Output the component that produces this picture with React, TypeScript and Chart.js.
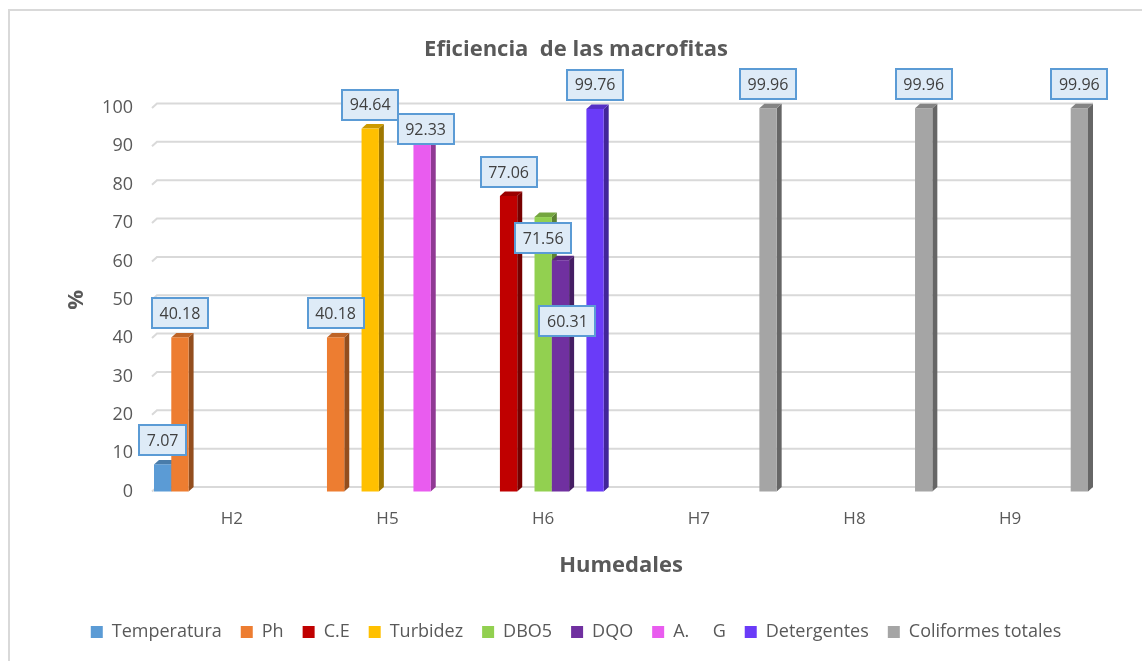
import React, { useEffect, useRef } from 'react';
import { Chart, registerables } from 'chart.js';

Chart.register(...registerables);

// ---- Data ----
const categories: string[] = ['H2', 'H5', 'H6', 'H7', 'H8', 'H9'];
const seriesNames: string[] = [
  'Temperatura', 'Ph', 'C.E', 'Turbidez', 'DBO5', 'DQO', 'A.     G', 'Detergentes', 'Coliformes totales',
];
const temperatura = [7.07, null, null, null, null, null];
const ph = [40.18, 40.18, null, null, null, null];
const ce = [null, null, 77.06, null, null, null];
const turbidez = [null, 94.64, null, null, null, null];
const dbo5 = [null, null, 71.56, null, null, null];
const dqo = [null, null, 60.31, null, null, null];
const aG = [null, 92.33, null, null, null, null];
const detergentes = [null, null, 99.76, null, null, null];
const coliformes = [null, null, null, 99.96, 99.96, 99.96];
const seriesValues = [temperatura, ph, ce, turbidez, dbo5, dqo, aG, detergentes, coliformes];
const yTicks: number[] = [0, 10, 20, 30, 40, 50, 60, 70, 80, 90, 100];

// ---- Styles ----
const seriesColors = ['#5B9BD5', '#ED7D31', '#C00000', '#FFC000', '#92D050', '#7030A0', '#E95CEF', '#6A3BF8', '#A5A5A5'];
const FONT = '"Open Sans"';
const TEXT = '#595959';
const DEPTH_X = 5;
const DEPTH_Y = -4.5;

function shade(hex: string, f: number): string {
  const n = parseInt(hex.slice(1), 16);
  const r = Math.round(((n >> 16) & 255) * f);
  const g = Math.round(((n >> 8) & 255) * f);
  const b = Math.round((n & 255) * f);
  return `rgb(${r},${g},${b})`;
}

const bars3d = {
  id: 'bars3d',
  beforeDatasetsDraw(chart: any) {
    const ctx = chart.ctx;
    const { left, right } = chart.chartArea;
    const ys = chart.scales.y;
    ctx.save();
    // back-wall gridlines
    ctx.strokeStyle = '#D9D9D9';
    ctx.lineWidth = 2;
    for (const v of yTicks) {
      const py = ys.getPixelForValue(v);
      ctx.beginPath();
      ctx.moveTo(left - 2, py);
      ctx.lineTo(left + 3, py + DEPTH_Y);
      ctx.lineTo(right + DEPTH_X, py + DEPTH_Y);
      ctx.stroke();
    }
    // bars
    const items: any[] = [];
    chart.data.datasets.forEach((ds: any, di: number) => {
      const meta = chart.getDatasetMeta(di);
      meta.data.forEach((el: any, i: number) => {
        const v = ds.data[i];
        if (v === null || v === undefined) return;
        items.push({ x: el.x, y: el.y, base: el.base, w: el.width, color: ds.backgroundColor });
      });
    });
    items.sort((a, b) => a.x - b.x);
    for (const it of items) {
      const l = it.x - it.w / 2;
      const r = it.x + it.w / 2;
      // side face
      ctx.fillStyle = shade(it.color, 0.62);
      ctx.beginPath();
      ctx.moveTo(r, it.y);
      ctx.lineTo(r + DEPTH_X, it.y + DEPTH_Y);
      ctx.lineTo(r + DEPTH_X, it.base + DEPTH_Y);
      ctx.lineTo(r, it.base);
      ctx.closePath();
      ctx.fill();
      // top face
      ctx.fillStyle = shade(it.color, 0.8);
      ctx.beginPath();
      ctx.moveTo(l, it.y);
      ctx.lineTo(l + DEPTH_X, it.y + DEPTH_Y);
      ctx.lineTo(r + DEPTH_X, it.y + DEPTH_Y);
      ctx.lineTo(r, it.y);
      ctx.closePath();
      ctx.fill();
      // front face
      ctx.fillStyle = it.color;
      ctx.fillRect(l, it.y, it.w, it.base - it.y);
    }
    ctx.restore();
    return false;
  },
};

const barLabels = {
  id: 'barLabels',
  afterDraw(chart: any, _args: any, opts: any) {
    const ctx = chart.ctx;
    const offsets = (opts && opts.offsets) || {};
    ctx.save();
    ctx.font = `16px ${FONT}`;
    ctx.textAlign = 'center';
    ctx.textBaseline = 'middle';
    chart.data.datasets.forEach((ds: any, di: number) => {
      const meta = chart.getDatasetMeta(di);
      meta.data.forEach((el: any, i: number) => {
        const v = ds.data[i];
        if (v === null || v === undefined) return;
        const txt = v.toFixed(2);
        const off = offsets[`${di}:${i}`] || [0, 0];
        const cx = el.x + off[0];
        const cy = el.y - 24 + off[1];
        const tw = ctx.measureText(txt).width;
        const w = Math.round(tw + 15);
        const h = 30;
        const bx = Math.round(cx - w / 2);
        const by = Math.round(cy - h / 2);
        ctx.fillStyle = '#DEEBF7';
        ctx.fillRect(bx, by, w, h);
        ctx.strokeStyle = '#5B9BD5';
        ctx.lineWidth = 2;
        ctx.strokeRect(bx, by, w, h);
        ctx.fillStyle = '#404040';
        ctx.fillText(txt, cx, cy + 1);
      });
    });
    ctx.restore();
  },
};

export default function App() {
  const ref = useRef<HTMLCanvasElement | null>(null);

  useEffect(() => {
    if (!ref.current) return;
    const chart = new Chart(ref.current, {
      type: 'bar',
      data: {
        labels: categories,
        datasets: seriesNames.map((name, i) => ({
          label: name,
          data: seriesValues[i],
          backgroundColor: seriesColors[i],
          borderWidth: 0,
          categoryPercentage: 1,
          barPercentage: 1,
        })),
      },
      options: {
        responsive: false,
        animation: false,
        events: [],
        layout: { padding: { left: 64, right: 54, top: 0, bottom: 10 } },
        scales: {
          x: {
            grid: { display: false, drawTicks: false },
            border: { display: false },
            ticks: { font: { family: FONT, size: 17 }, color: TEXT, padding: 17 },
            title: {
              display: true,
              text: 'Humedales',
              font: { family: FONT, size: 22, weight: 'bold' },
              color: TEXT,
              padding: { top: 0, bottom: 25 },
            },
            afterFit: (s: any) => { s.height = 112.5; },
          },
          y: {
            min: 0,
            max: 100,
            grid: { display: false, drawTicks: false },
            border: { display: false },
            ticks: { stepSize: 10, font: { family: FONT, size: 18 }, color: TEXT, padding: 21 },
            title: {
              display: true,
              text: '%',
              font: { family: FONT, size: 22, weight: 'bold' },
              color: TEXT,
              padding: { top: 0, bottom: 0 },
            },
            afterFit: (s: any) => { s.width = 90; },
          },
        },
        plugins: {
          title: {
            display: true,
            text: 'Eficiencia  de las macrofitas',
            font: { family: FONT, size: 22, weight: 'bold' },
            color: TEXT,
            padding: { top: 36.3, bottom: 45.3 },
          },
          legend: {
            position: 'bottom',
            labels: {
              font: { family: FONT, size: 18 },
              color: TEXT,
              boxWidth: 12,
              boxHeight: 12,
              padding: 19,
            },
          },
          tooltip: { enabled: false },
          barLabels: { offsets: { '6:1': [3.5, 15.6], '4:2': [0, 45], '5:2': [7, 85] } },
        } as any,
      },
      plugins: [bars3d, barLabels],
    } as any);
    return () => chart.destroy();
  }, []);

  return (
    <div style={{ position: 'fixed', left: 0, top: 0, width: 1142, height: 661, overflow: 'hidden', background: '#fff' }}>
      <div
        style={{
          position: 'absolute', left: 8, top: 9, width: 1200, height: 720,
          border: '2px solid #D9D9D9', boxSizing: 'border-box',
        }}
      />
      <canvas ref={ref} width={1142} height={661} style={{ position: 'absolute', left: 0, top: 0 }} />
    </div>
  );
}
